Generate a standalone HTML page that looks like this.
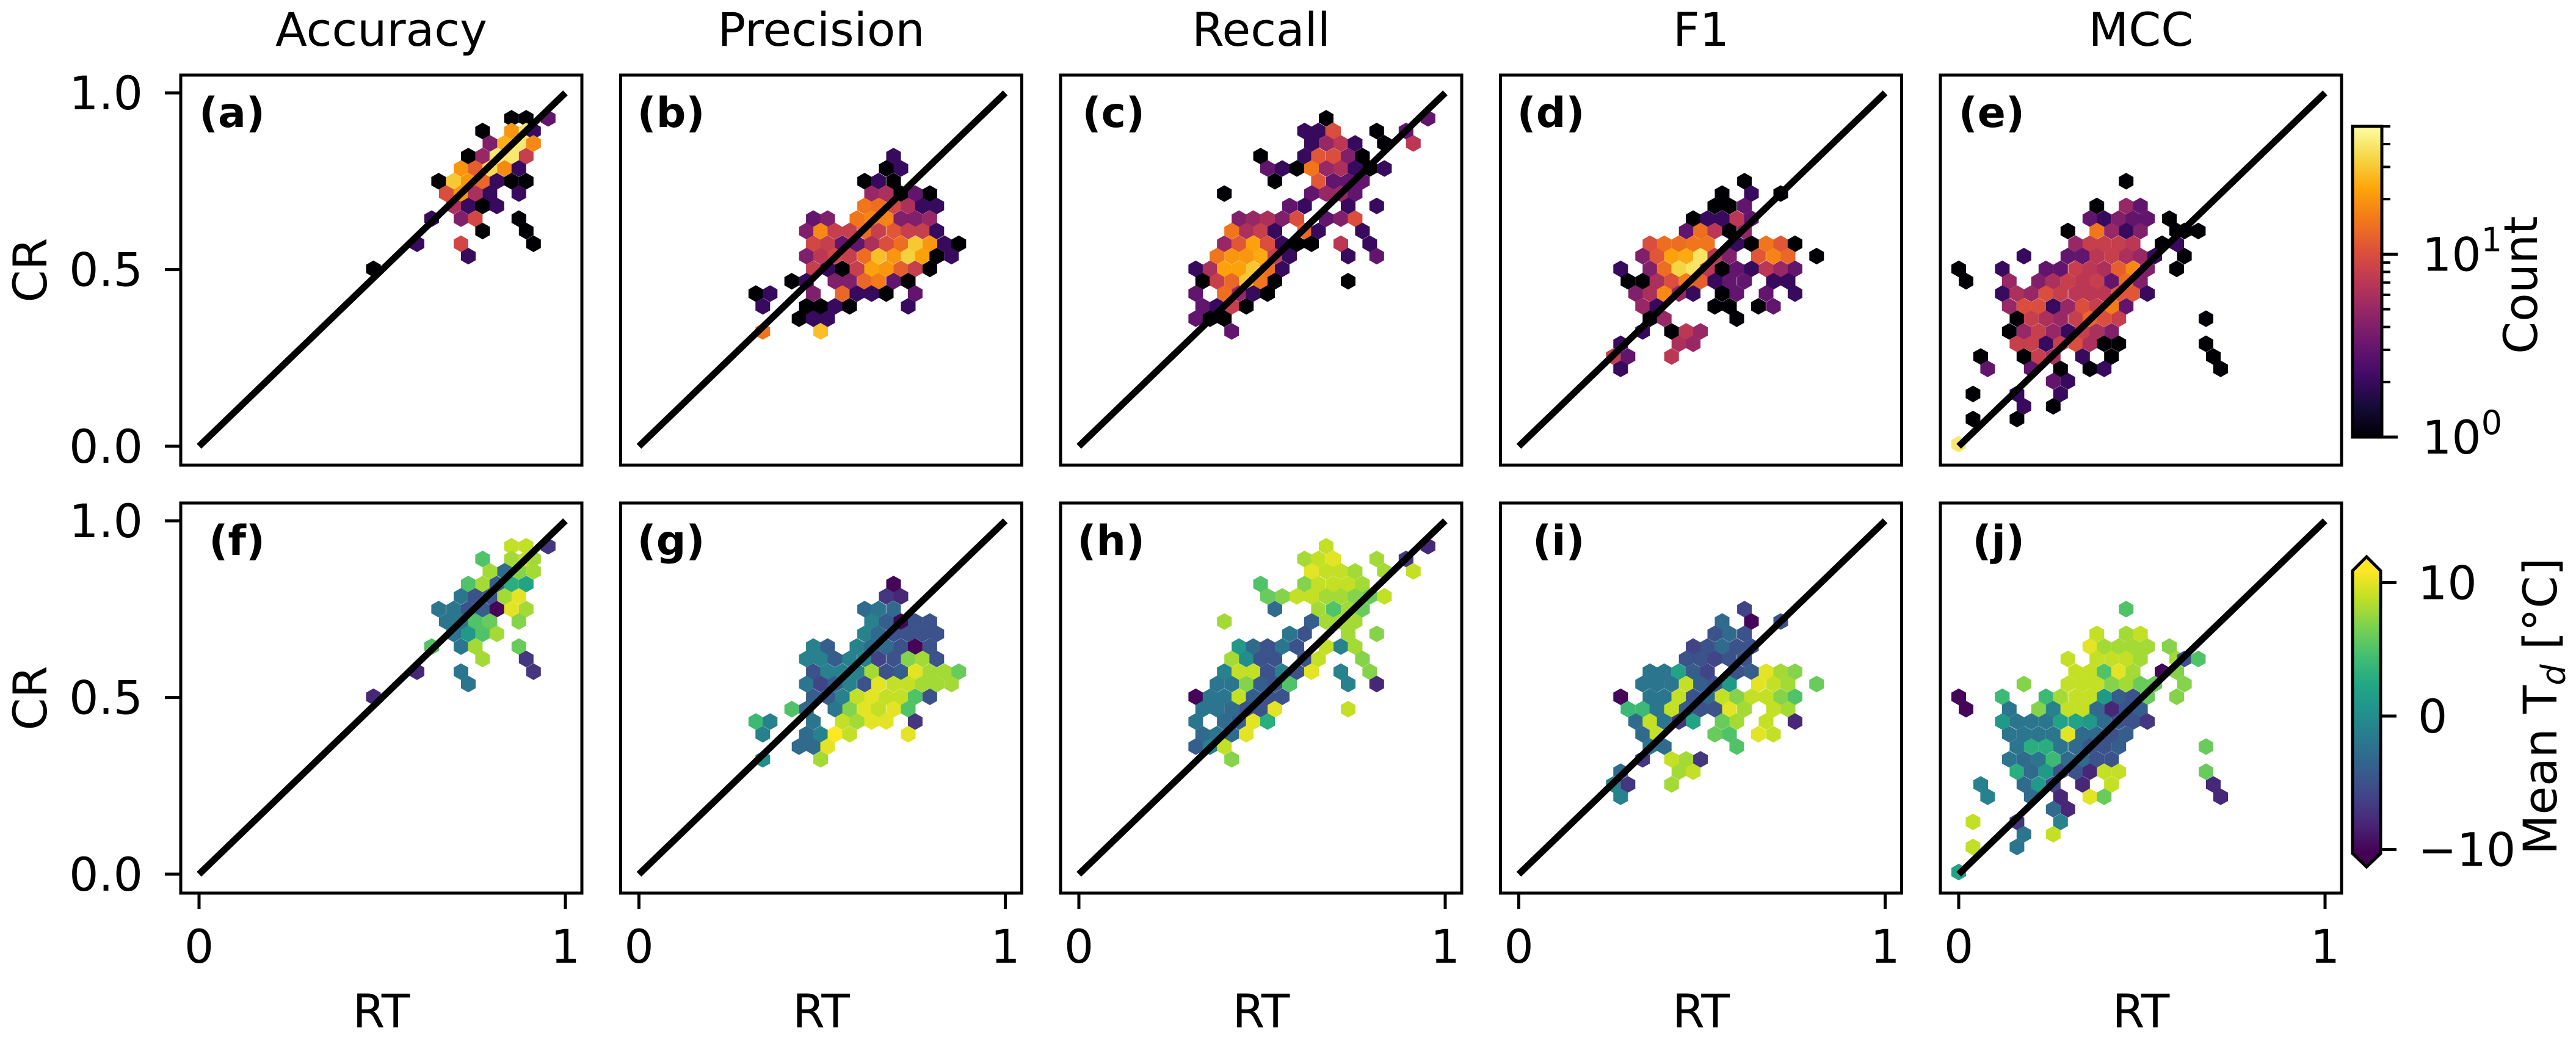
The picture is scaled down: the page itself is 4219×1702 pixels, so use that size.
<!DOCTYPE html>
<html><head><meta charset="utf-8"><style>
html,body{margin:0;padding:0;background:#fff;}
svg{display:block;font-family:"DejaVu Sans","Liberation Sans",sans-serif;}
</style></head><body>
<svg id="fig" width="4219" height="1702" viewBox="0 0 4219 1702" xmlns="http://www.w3.org/2000/svg">
<defs>
<linearGradient id="gInferno" x1="0" y1="1" x2="0" y2="0">
<stop offset="0" stop-color="#000004"/><stop offset="0.1" stop-color="#160b39"/><stop offset="0.2" stop-color="#420a68"/><stop offset="0.3" stop-color="#6a176e"/><stop offset="0.4" stop-color="#932667"/><stop offset="0.5" stop-color="#bc3754"/><stop offset="0.6" stop-color="#dd513a"/><stop offset="0.7" stop-color="#f37819"/><stop offset="0.8" stop-color="#fca50a"/><stop offset="0.9" stop-color="#f6d746"/><stop offset="1" stop-color="#fcffa4"/>
</linearGradient>
<linearGradient id="gViridis" x1="0" y1="1" x2="0" y2="0">
<stop offset="0" stop-color="#440154"/><stop offset="0.1" stop-color="#482475"/><stop offset="0.2" stop-color="#414487"/><stop offset="0.3" stop-color="#355f8d"/><stop offset="0.4" stop-color="#2a788e"/><stop offset="0.5" stop-color="#21918c"/><stop offset="0.6" stop-color="#22a884"/><stop offset="0.7" stop-color="#44bf70"/><stop offset="0.8" stop-color="#7ad151"/><stop offset="0.9" stop-color="#bddf26"/><stop offset="1" stop-color="#fde725"/>
</linearGradient>
</defs>
</svg>
<script>
// ---- data: hex cells (RT, CR) with count (top row) and mean Td (bottom row) ----
const titles=["Accuracy","Precision","Recall","F1","MCC"];
const topLabels=["(a)","(b)","(c)","(d)","(e)"];
const botLabels=["(f)","(g)","(h)","(i)","(j)"];
const yTicks=[0,0.5,1];
const yTickLabels=["0.0","0.5","1.0"];
const xTicks=[0,1];
const xTickLabels=["0","1"];
const countMax=50;
const tdTicks=[10,0,-10];
const tdTickLabels=["10","0","\u221210"];

const A=[
[.928,[.853,1,9],[.893,1,9],[.953,3,-7]],
[.892,[.774,1,5],[.853,20,8],[.893,40,9],[.913,2,8]],
[.857,[.794,4,8],[.834,25,-3],[.873,40,7],[.913,18,8]],
[.821,[.735,1,5],[.774,5,8],[.813,40,-4],[.853,40,3],[.893,8,2]],
[.786,[.715,20,-2],[.754,12,-5],[.794,35,-5],[.834,18,8],[.873,2,10]],
[.750,[.654,1,-2],[.695,30,-2],[.735,20,-5],[.774,13,-4],[.813,2,-10],[.853,1,10],[.893,1,8]],
[.715,[.675,10,-2],[.715,20,-2],[.754,6,5],[.794,2,6],[.873,2,7]],
[.680,[.695,6,-2],[.735,2,1],[.774,1,5],[.813,2,8]],
[.644,[.635,2,5],[.715,4,-2],[.754,9,8],[.873,1,6]],
[.609,[.774,1,8],[.893,1,-7]],
[.573,[.595,2,-8],[.715,9,-2],[.913,1,-7]],
[.538,[.735,2,-2]],
[.502,[.476,1,-8]]
];
const B=[
[.821,[.695,2,-10]],
[.786,[.675,1,-7],[.715,2,-8]],
[.750,[.616,1,-3],[.654,2,-2],[.695,1,-3]],
[.715,[.635,5,-1],[.675,6,-4],[.715,1,-10],[.754,3,-5],[.794,1,-5]],
[.680,[.616,15,-1],[.654,14,-3],[.695,9,-5],[.735,6,-5],[.774,2,-5],[.813,2,-5]],
[.644,[.476,3,-1],[.515,4,-4],[.595,15,-1],[.635,17,-3],[.675,17,-3],[.715,4,-5],[.754,4,-10],[.794,5,-5]],
[.609,[.457,4,-1],[.496,18,-1],[.535,8,-4],[.575,8,-1],[.616,14,-1],[.654,8,-6],[.695,11,-5],[.735,8,7],[.774,8,8],[.813,2,-5]],
[.573,[.476,9,-5],[.515,8,-1],[.555,3,-1],[.595,3,-1],[.635,6,8],[.675,10,-5],[.715,14,-4],[.754,30,10],[.794,20,8],[.834,2,8],[.873,1,6]],
[.538,[.457,4,-2],[.496,7,-6],[.535,9,-4],[.575,8,-1],[.616,14,-5],[.654,28,10],[.695,20,9],[.735,32,9],[.774,22,8],[.813,1,8],[.853,2,8]],
[.502,[.476,8,-4],[.515,2,-4],[.555,1,-1],[.595,8,9],[.635,22,10],[.675,20,9],[.715,12,9],[.754,8,5],[.794,1,-5]],
[.467,[.417,1,5],[.457,2,-3],[.535,4,-2],[.575,4,7],[.616,13,10],[.654,16,9],[.695,3,10],[.735,1,5]],
[.432,[.319,1,4],[.358,2,-1],[.476,4,-2],[.555,13,9],[.595,2,8],[.635,2,10],[.675,1,10],[.754,3,-7]],
[.396,[.338,2,-1],[.457,1,-3],[.496,1,-1],[.535,2,11],[.575,1,9],[.735,2,10]],
[.361,[.437,1,-3],[.476,2,-3],[.515,2,10]],
[.325,[.338,15,0],[.496,28,8]]
];
const C=[
[.928,[.675,1,9],[.953,3,-8]],
[.892,[.616,2,8],[.654,2,9],[.695,10,10],[.813,1,8],[.893,3,-7]],
[.857,[.635,2,10],[.675,5,9],[.715,7,9],[.754,2,8],[.834,1,8],[.913,7,9]],
[.821,[.496,1,5],[.616,2,7],[.654,11,9],[.695,10,9],[.735,4,9],[.774,1,8]],
[.786,[.515,3,6],[.555,2,7],[.595,1,9],[.635,15,9],[.675,5,8],[.715,6,8],[.754,2,7],[.794,1,6],[.834,2,9]],
[.750,[.535,1,-3],[.654,11,8],[.695,3,5],[.735,3,8],[.774,3,6]],
[.715,[.397,1,8],[.635,3,-4],[.675,5,8],[.715,5,8],[.754,3,8]],
[.680,[.575,3,-2],[.616,2,-5],[.735,2,8],[.813,2,7]],
[.644,[.437,4,1],[.476,5,-3],[.515,6,-5],[.555,4,-2],[.595,10,-5],[.675,3,9],[.715,4,-1],[.754,10,8]],
[.609,[.417,15,8],[.457,6,0],[.496,8,-5],[.535,2,-5],[.616,13,-5],[.654,2,9],[.774,2,7]],
[.573,[.397,5,-1],[.437,11,9],[.476,22,9],[.515,10,-5],[.555,2,-1],[.595,1,-5],[.635,1,10],[.715,7,-1],[.794,2,7]],
[.538,[.377,15,-2],[.417,20,-2],[.457,20,7],[.496,24,-4],[.535,8,-5],[.575,2,5],[.735,2,-1],[.813,3,-8]],
[.502,[.319,2,-10],[.358,6,-2],[.397,22,-2],[.437,22,9],[.476,30,-4],[.515,14,-5],[.555,2,-5]],
[.467,[.338,1,-2],[.377,8,-2],[.417,13,-3],[.457,30,-5],[.496,15,-5],[.535,1,10],[.735,1,9]],
[.432,[.319,3,-2],[.397,14,-3],[.437,5,-4],[.476,2,10],[.515,1,3]],
[.396,[.338,3,-3],[.377,2,-2],[.417,8,-3],[.457,1,10]],
[.361,[.319,3,-4],[.358,1,-1],[.397,1,9]],
[.325,[.417,3,7]]
];
const D=[
[.750,[.616,1,-6]],
[.715,[.555,1,-3],[.635,2,-10],[.715,1,-5]],
[.680,[.535,1,-5],[.575,1,-3],[.616,3,-5]],
[.644,[.476,1,-6],[.515,2,-5],[.555,2,-3],[.595,7,-5],[.635,3,-5]],
[.609,[.457,3,-5],[.496,14,-5],[.535,7,-6],[.575,1,-5],[.616,5,-5]],
[.573,[.358,10,-2],[.397,14,-2],[.437,14,2],[.476,15,-4],[.515,15,-6],[.595,2,-5],[.635,1,-4],[.675,15,10],[.715,11,8],[.754,1,7]],
[.538,[.338,4,-2],[.377,11,-2],[.417,22,-2],[.457,24,9],[.496,38,-4],[.535,7,-5],[.575,4,1],[.654,11,10],[.695,17,9],[.735,13,8],[.813,1,6]],
[.502,[.278,2,-10],[.358,4,-2],[.397,14,-2],[.437,33,9],[.476,38,-5],[.515,7,-3],[.555,1,9],[.595,3,7],[.635,2,9],[.675,7,9],[.715,5,7],[.754,3,5]],
[.467,[.298,1,4],[.338,1,4],[.377,6,-2],[.417,10,9],[.457,16,-4],[.496,12,-5],[.535,2,-5],[.575,3,10],[.616,3,8],[.695,2,9],[.735,2,8]],
[.432,[.319,4,-3],[.358,6,9],[.397,18,-2],[.437,5,-7],[.476,2,2],[.555,1,6],[.595,3,8],[.675,3,9],[.754,2,-8]],
[.396,[.338,5,-3],[.377,2,9],[.535,1,6],[.575,1,5],[.654,1,10],[.695,3,9]],
[.361,[.358,1,-2],[.397,5,-3],[.595,1,5]],
[.325,[.338,2,-7],[.417,1,9],[.457,7,8],[.496,5,-7]],
[.290,[.278,2,-3],[.437,6,8],[.476,5,9]],
[.254,[.258,8,-1],[.298,3,-7],[.417,7,8]],
[.219,[.278,2,-1]]
];
const E=[
[.750,[.457,1,5]],
[.680,[.377,1,9],[.457,5,8],[.496,3,9]],
[.644,[.358,3,10],[.397,2,8],[.437,4,8],[.476,3,8],[.515,3,8],[.575,1,7]],
[.609,[.298,1,9],[.377,15,9],[.417,5,9],[.457,2,9],[.496,4,8],[.595,1,8],[.616,1,-5],[.654,1,5]],
[.573,[.319,5,9],[.358,8,9],[.397,8,5],[.437,8,10],[.476,7,8],[.555,1,-10],[.595,2,7]],
[.538,[.178,2,7],[.298,3,9],[.338,3,9],[.377,7,9],[.417,8,7],[.457,6,8],[.496,5,6],[.535,2,6],[.616,1,7]],
[.502,[.000,1,-10],[.119,2,4],[.238,3,4],[.278,3,8],[.319,8,9],[.358,7,9],[.397,6,1],[.437,12,-4],[.476,18,-5],[.515,4,6],[.595,1,7]],
[.467,[.020,1,-10],[.138,5,-2],[.218,4,7],[.258,6,-1],[.298,8,9],[.338,7,9],[.377,8,-3],[.417,3,-8],[.457,14,-5],[.496,4,-4]],
[.432,[.119,2,1],[.159,6,-2],[.198,5,-2],[.238,10,-2],[.278,8,2],[.319,7,2],[.358,7,1],[.397,7,-3],[.437,11,-5],[.476,11,-5],[.515,2,-7]],
[.396,[.138,5,-2],[.178,10,-2],[.218,10,-2],[.258,2,-2],[.298,5,10],[.338,10,-3],[.377,8,-3],[.417,16,-5],[.457,3,-4]],
[.361,[.159,1,-2],[.198,8,3],[.238,6,3],[.278,5,-2],[.319,8,-3],[.358,13,-5],[.397,10,-5],[.437,8,-4],[.675,1,6]],
[.325,[.138,1,-2],[.178,5,-3],[.218,8,-2],[.258,5,4],[.298,2,-3],[.338,8,-3],[.377,6,-5],[.417,4,-5]],
[.290,[.159,8,3],[.198,8,-3],[.238,2,1],[.278,8,-5],[.319,10,-5],[.358,6,-8],[.397,1,9],[.437,1,9],[.675,1,6]],
[.254,[.060,1,-1],[.178,1,-3],[.218,8,1],[.258,6,-6],[.338,2,-8],[.417,1,9],[.695,1,-8]],
[.219,[.079,3,-1],[.198,3,-3],[.278,1,-8],[.358,1,10],[.397,2,6],[.715,1,-8]],
[.184,[.258,3,-3],[.298,2,-8]],
[.148,[.039,1,9],[.159,2,-7],[.278,2,-1]],
[.113,[.178,2,-2],[.258,1,9]],
[.077,[.039,1,9],[.159,1,-2]],
[.006,[.000,40,2]]
];
const panelsData=[A,B,C,D,E];

// ---- geometry / scales ----
const NS="http://www.w3.org/2000/svg";
const svg=document.getElementById('fig');
const PX0=296, PSTEP=720.5, PW=657;
const ROW_TOP=[123,824], PH=639;
const XMIN=-0.05, XMAX=1.045, YMIN=-0.0535, YMAX=1.0503;
function xScale(col,v){return PX0+PSTEP*col+(v-XMIN)/(XMAX-XMIN)*PW;}
function yScale(row,v){return ROW_TOP[row]+PH-(v-YMIN)/(YMAX-YMIN)*PH;}
const HEX_DX=0.04, HEX_DY=0.0354;

function mk(tag,attrs,parent){const e=document.createElementNS(NS,tag);for(const k in attrs)e.setAttribute(k,attrs[k]);(parent||svg).appendChild(e);return e;}
function lerpStops(stops,t){t=Math.max(0,Math.min(1,t));const n=stops.length-1;const i=Math.min(n-1,Math.floor(t*n));const f=t*n-i;
 const a=stops[i],b=stops[i+1];const h=s=>[parseInt(s.slice(1,3),16),parseInt(s.slice(3,5),16),parseInt(s.slice(5,7),16)];
 const A1=h(a),B1=h(b);return 'rgb('+A1.map((c,k)=>Math.round(c+(B1[k]-c)*f)).join(',')+')';}
const INF=["#000004","#160b39","#420a68","#6a176e","#932667","#bc3754","#dd513a","#f37819","#fca50a","#f6d746","#fcffa4"];
const VIR=["#440154","#482475","#414487","#355f8d","#2a788e","#21918c","#22a884","#44bf70","#7ad151","#bddf26","#fde725"];
function countColor(c){return lerpStops(INF,Math.log10(c)/Math.log10(countMax));}
function tdColor(t){return lerpStops(VIR,(t+10.3)/21.2);}

function hexPath(cx,cy,w,h){
 return `M${cx},${cy-h/2}L${cx+w/2},${cy-h/4}L${cx+w/2},${cy+h/4}L${cx},${cy+h/2}L${cx-w/2},${cy+h/4}L${cx-w/2},${cy-h/4}Z`;}

for(let col=0;col<5;col++){
 for(let row=0;row<2;row++){
  const left=PX0+PSTEP*col, top=ROW_TOP[row];
  const g=mk('g',{});
  
  
  const w=xScale(col,HEX_DX)-xScale(col,0);
  const h=(yScale(row,0)-yScale(row,HEX_DY))*4/3;
  panelsData[col].forEach(r=>{
   const yv=r[0];
   for(let k=1;k<r.length;k++){
    const c=r[k];
    const p=mk('path',{d:hexPath(xScale(col,c[0]),yScale(row,yv),w,h),fill:row?tdColor(c[2]):countColor(c[1]),stroke:'none'},g);
    
    
   }
  });
  const ln=mk('line',{x1:xScale(col,0),y1:yScale(row,0),x2:xScale(col,1),y2:yScale(row,1),stroke:'#000','stroke-width':11},g);
  
  
  const fr=mk('rect',{x:left,y:top,width:PW,height:PH,fill:'none',stroke:'#000','stroke-width':5},g);
  
  
  const lab=mk('text',{x:left+138,y:top+85,'text-anchor':'end','font-size':68,'font-weight':'bold'},g);
  lab.textContent=row?botLabels[col]:topLabels[col];
  
  
  if(col===0){
   yTicks.forEach((t,i)=>{
    const y=yScale(row,t);
    const tk=mk('line',{x1:left-26,y1:y,x2:left,y2:y,stroke:'#000','stroke-width':5},g);
    
    
    const tl=mk('text',{x:234,y:y+27,'text-anchor':'end','font-size':76},g);
    tl.textContent=yTickLabels[i];
    
    
   });
   const cy=top+PH/2;
   const yl=mk('text',{x:76,y:cy,'text-anchor':'middle','font-size':76,transform:`rotate(-90 76 ${cy})`},g);
   yl.textContent='CR';
   
   
  }
  if(row===1){
   xTicks.forEach((t,i)=>{
    const x=xScale(col,t);
    const tk=mk('line',{x1:x,y1:top+PH,x2:x,y2:top+PH+26,stroke:'#000','stroke-width':5},g);
    
    
    const tl=mk('text',{x:x,y:1577,'text-anchor':'middle','font-size':76},g);
    tl.textContent=xTickLabels[i];
    
    
   });
   const xl=mk('text',{x:left+PW/2,y:1683,'text-anchor':'middle','font-size':76},g);
   xl.textContent='RT';
   
   
  } else {
   const tt=mk('text',{x:left+PW/2,y:75,'text-anchor':'middle','font-size':76},g);
   tt.textContent=titles[col];
   
   
  }
 }
}

// ---- count colorbar (log) ----
(function(){
 const x=3853,w=48,yTop=207,yBot=716;
 const g=mk('g',{});
 
 
 mk('rect',{x:x,y:yTop,width:w,height:yBot-yTop,fill:'url(#gInferno)',stroke:'#000','stroke-width':5},g);
 const ys=v=>yBot-Math.log10(v)/Math.log10(countMax)*(yBot-yTop);
 [2,3,4,5,6,7,8,9,20,30,40,50].forEach(v=>{
  const t=mk('line',{x1:x+w,y1:ys(v),x2:x+w+14,y2:ys(v),stroke:'#000','stroke-width':4},g);
  
  
 });
 [[1,'0'],[10,'1']].forEach(p=>{
  const y=ys(p[0]);
  mk('line',{x1:x+w,y1:y,x2:x+w+26,y2:y,stroke:'#000','stroke-width':5},g);
  const t=mk('text',{x:3967,y:y+27,'font-size':76},g);
  
  
  t.appendChild(document.createTextNode('10'));
  const s=mk('tspan',{dy:-32,'font-size':54},t);s.textContent=p[1];
 });
 const lab=mk('text',{x:4155,y:467,'text-anchor':'middle','font-size':76,transform:'rotate(-90 4155 467)'},g);
 lab.textContent='Count';
 
 
})();

// ---- Td colorbar ----
(function(){
 const x=3853,w=46,yTop=935,yBot=1398,tipT=912,tipB=1420;
 const g=mk('g',{});
 
 
 mk('rect',{x:x,y:yTop,width:w,height:yBot-yTop,fill:'url(#gViridis)',stroke:'none'},g);
 mk('path',{d:`M${x},${yTop}L${x+w/2},${tipT}L${x+w},${yTop}Z`,fill:'#fde725'},g);
 mk('path',{d:`M${x},${yBot}L${x+w/2},${tipB}L${x+w},${yBot}Z`,fill:'#440154'},g);
 mk('path',{d:`M${x},${yTop}L${x+w/2},${tipT}L${x+w},${yTop}L${x+w},${yBot}L${x+w/2},${tipB}L${x},${yBot}Z`,fill:'none',stroke:'#000','stroke-width':5},g);
 const ys=v=>1173-v*21.85;
 tdTicks.forEach((v,i)=>{
  const y=ys(v);
  mk('line',{x1:x+w,y1:y,x2:x+w+26,y2:y,stroke:'#000','stroke-width':5},g);
  const t=mk('text',{x:3960,y:y+27,'font-size':76},g);
  t.textContent=tdTickLabels[i];
  
  
 });
 const lab=mk('text',{x:4187,y:1157,'text-anchor':'middle','font-size':76,transform:'rotate(-90 4187 1157)'},g);
 
 
 lab.appendChild(document.createTextNode('Mean T'));
 const sub=mk('tspan',{dy:14,'font-size':54,'font-style':'italic'},lab);sub.textContent='d';
 const rest=mk('tspan',{dy:-14},lab);rest.textContent=' [°C]';
})();
</script>
</body></html>
